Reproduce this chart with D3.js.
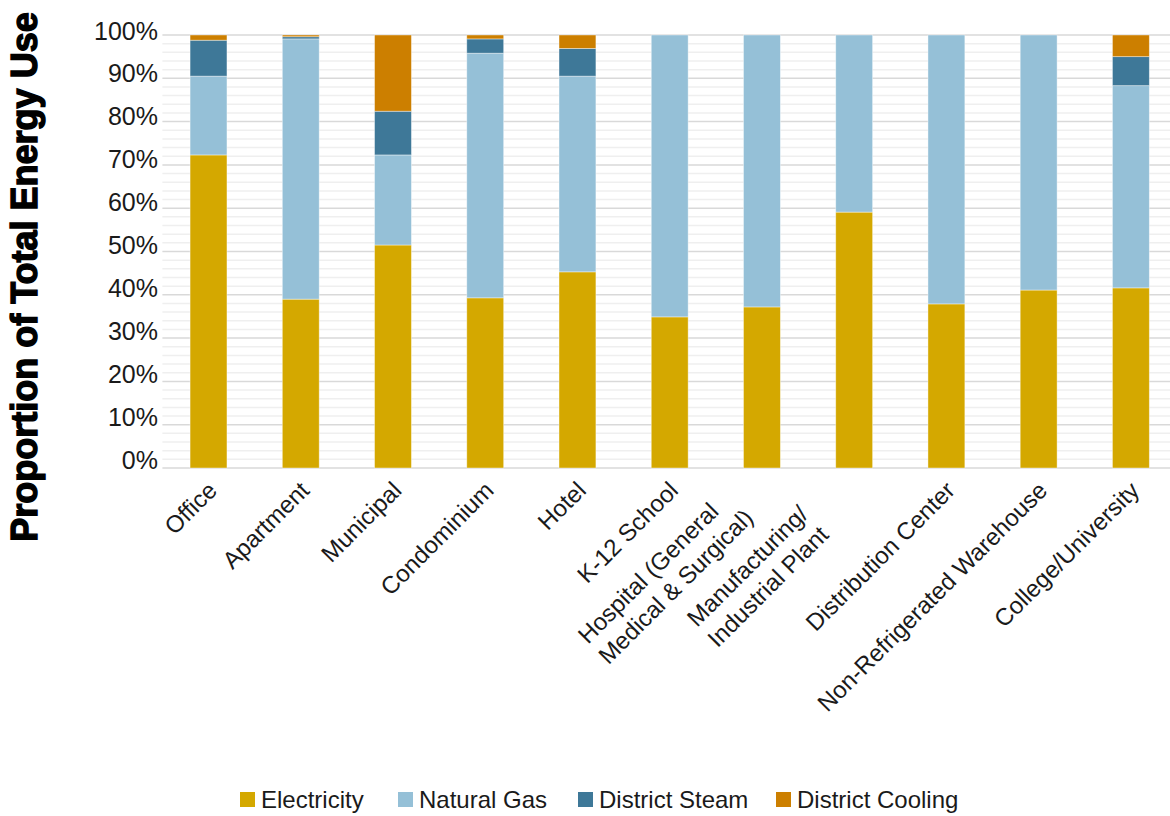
<!DOCTYPE html>
<html><head><meta charset="utf-8">
<script src="https://cdn.jsdelivr.net/npm/d3@7"></script>
<style>
html,body{margin:0;padding:0;background:#fff;}
svg{display:block;}
</style></head>
<body>
<svg id="chart" width="1170" height="816"></svg>
<script>
const categories = ["Office","Apartment","Municipal","Condominium","Hotel","K-12 School","Hospital (General\nMedical & Surgical)","Manufacturing/\nIndustrial Plant","Distribution Center","Non-Refrigerated Warehouse","College/University"];
const seriesNames = ["Electricity","Natural Gas","District Steam","District Cooling"];
const electricity   = [72.3, 39.0, 51.5, 39.3, 45.3, 34.9, 37.2, 59.1, 37.9, 41.1, 41.6];
const naturalGas    = [18.2, 60.1, 20.8, 56.5, 45.2, 65.1, 62.8, 40.9, 62.1, 58.9, 46.7];
const districtSteam = [ 8.3,  0.5, 10.1,  3.3,  6.4,  0,    0,    0,    0,    0,    6.7];
const districtCooling=[ 1.2,  0.4, 17.6,  0.9,  3.1,  0,    0,    0,    0,    0,    5.0];
const yTicks = [0,10,20,30,40,50,60,70,80,90,100];
const colors = ["#D4A800","#95C0D7","#3E7898","#CC7F00"];

const FONT = "'Liberation Sans', Arial, sans-serif";
const svg = d3.select("#chart");
const plotLeft = 162.4, plotRight = 1177, plotTop = 35, plotBottom = 468;

const x = d3.scaleBand().domain(categories).range([plotLeft, plotRight]).paddingInner(0.6).paddingOuter(0.3);
const y = d3.scaleLinear().domain([0,100]).range([plotBottom, plotTop]);

// minor gridlines (every 2%)
const minor = d3.range(0, 101, 2).filter(v => v % 10 !== 0);
svg.append("g").selectAll("line").data(minor).join("line")
  .attr("x1", plotLeft).attr("x2", 1170)
  .attr("y1", d => y(d)).attr("y2", d => y(d))
  .attr("stroke", "#efefef").attr("stroke-width", 1.5);
svg.append("g").selectAll("line").data(yTicks).join("line")
  .attr("x1", plotLeft).attr("x2", 1170)
  .attr("y1", d => y(d)).attr("y2", d => y(d))
  .attr("stroke", "#d9d9d9").attr("stroke-width", 1.5);

// stacked data
const rows = categories.map((c, i) => ({cat: c, "Electricity": electricity[i], "Natural Gas": naturalGas[i], "District Steam": districtSteam[i], "District Cooling": districtCooling[i]}));
const stack = d3.stack().keys(seriesNames)(rows);

svg.append("g").selectAll("g").data(stack).join("g")
  .attr("fill", (d, i) => colors[i])
  .selectAll("rect").data(d => d).join("rect")
  .attr("x", d => x(d.data.cat))
  .attr("width", x.bandwidth())
  .attr("y", d => y(d[1]))
  .attr("height", d => Math.max(0, y(d[0]) - y(d[1])))
  .attr("stroke", "#ffffff").attr("stroke-opacity", 0.5).attr("stroke-width", 0.8);

// y axis labels (baselines sit slightly apart from gridlines, as in the source)
const yLab = d3.scaleLinear().domain([0,100]).range([468, 39]);
const yAxis = d3.axisLeft(yLab).tickValues(yTicks).tickFormat(d => d + "%").tickSize(0).tickPadding(0);
const ya = svg.append("g").attr("transform", `translate(158,0)`).call(yAxis);
ya.select(".domain").remove();
ya.selectAll("text").attr("font-family", FONT)
  .attr("font-size", 25).attr("fill", "#1a1a1a").attr("dy", 0);

// x labels
const lh = 29;
const xl = svg.append("g").selectAll("g").data(categories).join("g")
  .attr("transform", d => `translate(${x(d) + x.bandwidth()/2 + 4},486) rotate(-45)`);
xl.each(function(d) {
  const g = d3.select(this);
  const lines = d.split("\n");
  if (lines.length === 1) {
    g.append("text").attr("text-anchor", "end")
      .attr("font-family", FONT).attr("font-size", 24).attr("fill", "#1a1a1a")
      .attr("dy", "0.35em").text(d);
  } else {
    const texts = lines.map((t, i) => g.append("text")
      .attr("text-anchor", "start")
      .attr("font-family", FONT).attr("font-size", 24).attr("fill", "#1a1a1a")
      .attr("y", -13.4 + i * lh)
      .text(t));
    const maxW = d3.max(texts.map(t => t.node().getComputedTextLength()));
    texts.forEach(t => t.attr("x", -135 - maxW / 2));
  }
});

// y title
svg.append("text")
  .attr("transform", "translate(37,277) rotate(-90)")
  .attr("text-anchor", "middle")
  .attr("font-family", FONT)
  .attr("font-weight", "bold").attr("font-size", 36)
  .attr("fill", "#000").attr("stroke", "#000").attr("stroke-width", 1.4)
  .text("Proportion of Total Energy Use");

// legend
const legendX = [240, 398, 578, 776];
const lg = svg.append("g").selectAll("g").data(seriesNames).join("g")
  .attr("transform", (d, i) => `translate(${legendX[i]},799.5)`);
lg.append("rect").attr("x", 0).attr("y", -7.5).attr("width", 15).attr("height", 15)
  .attr("fill", (d, i) => colors[i]);
lg.append("text").attr("x", 21).attr("dy", "0.36em")
  .attr("font-family", FONT)
  .attr("font-size", 24).attr("fill", "#1a1a1a").text(d => d);
</script>
</body></html>
